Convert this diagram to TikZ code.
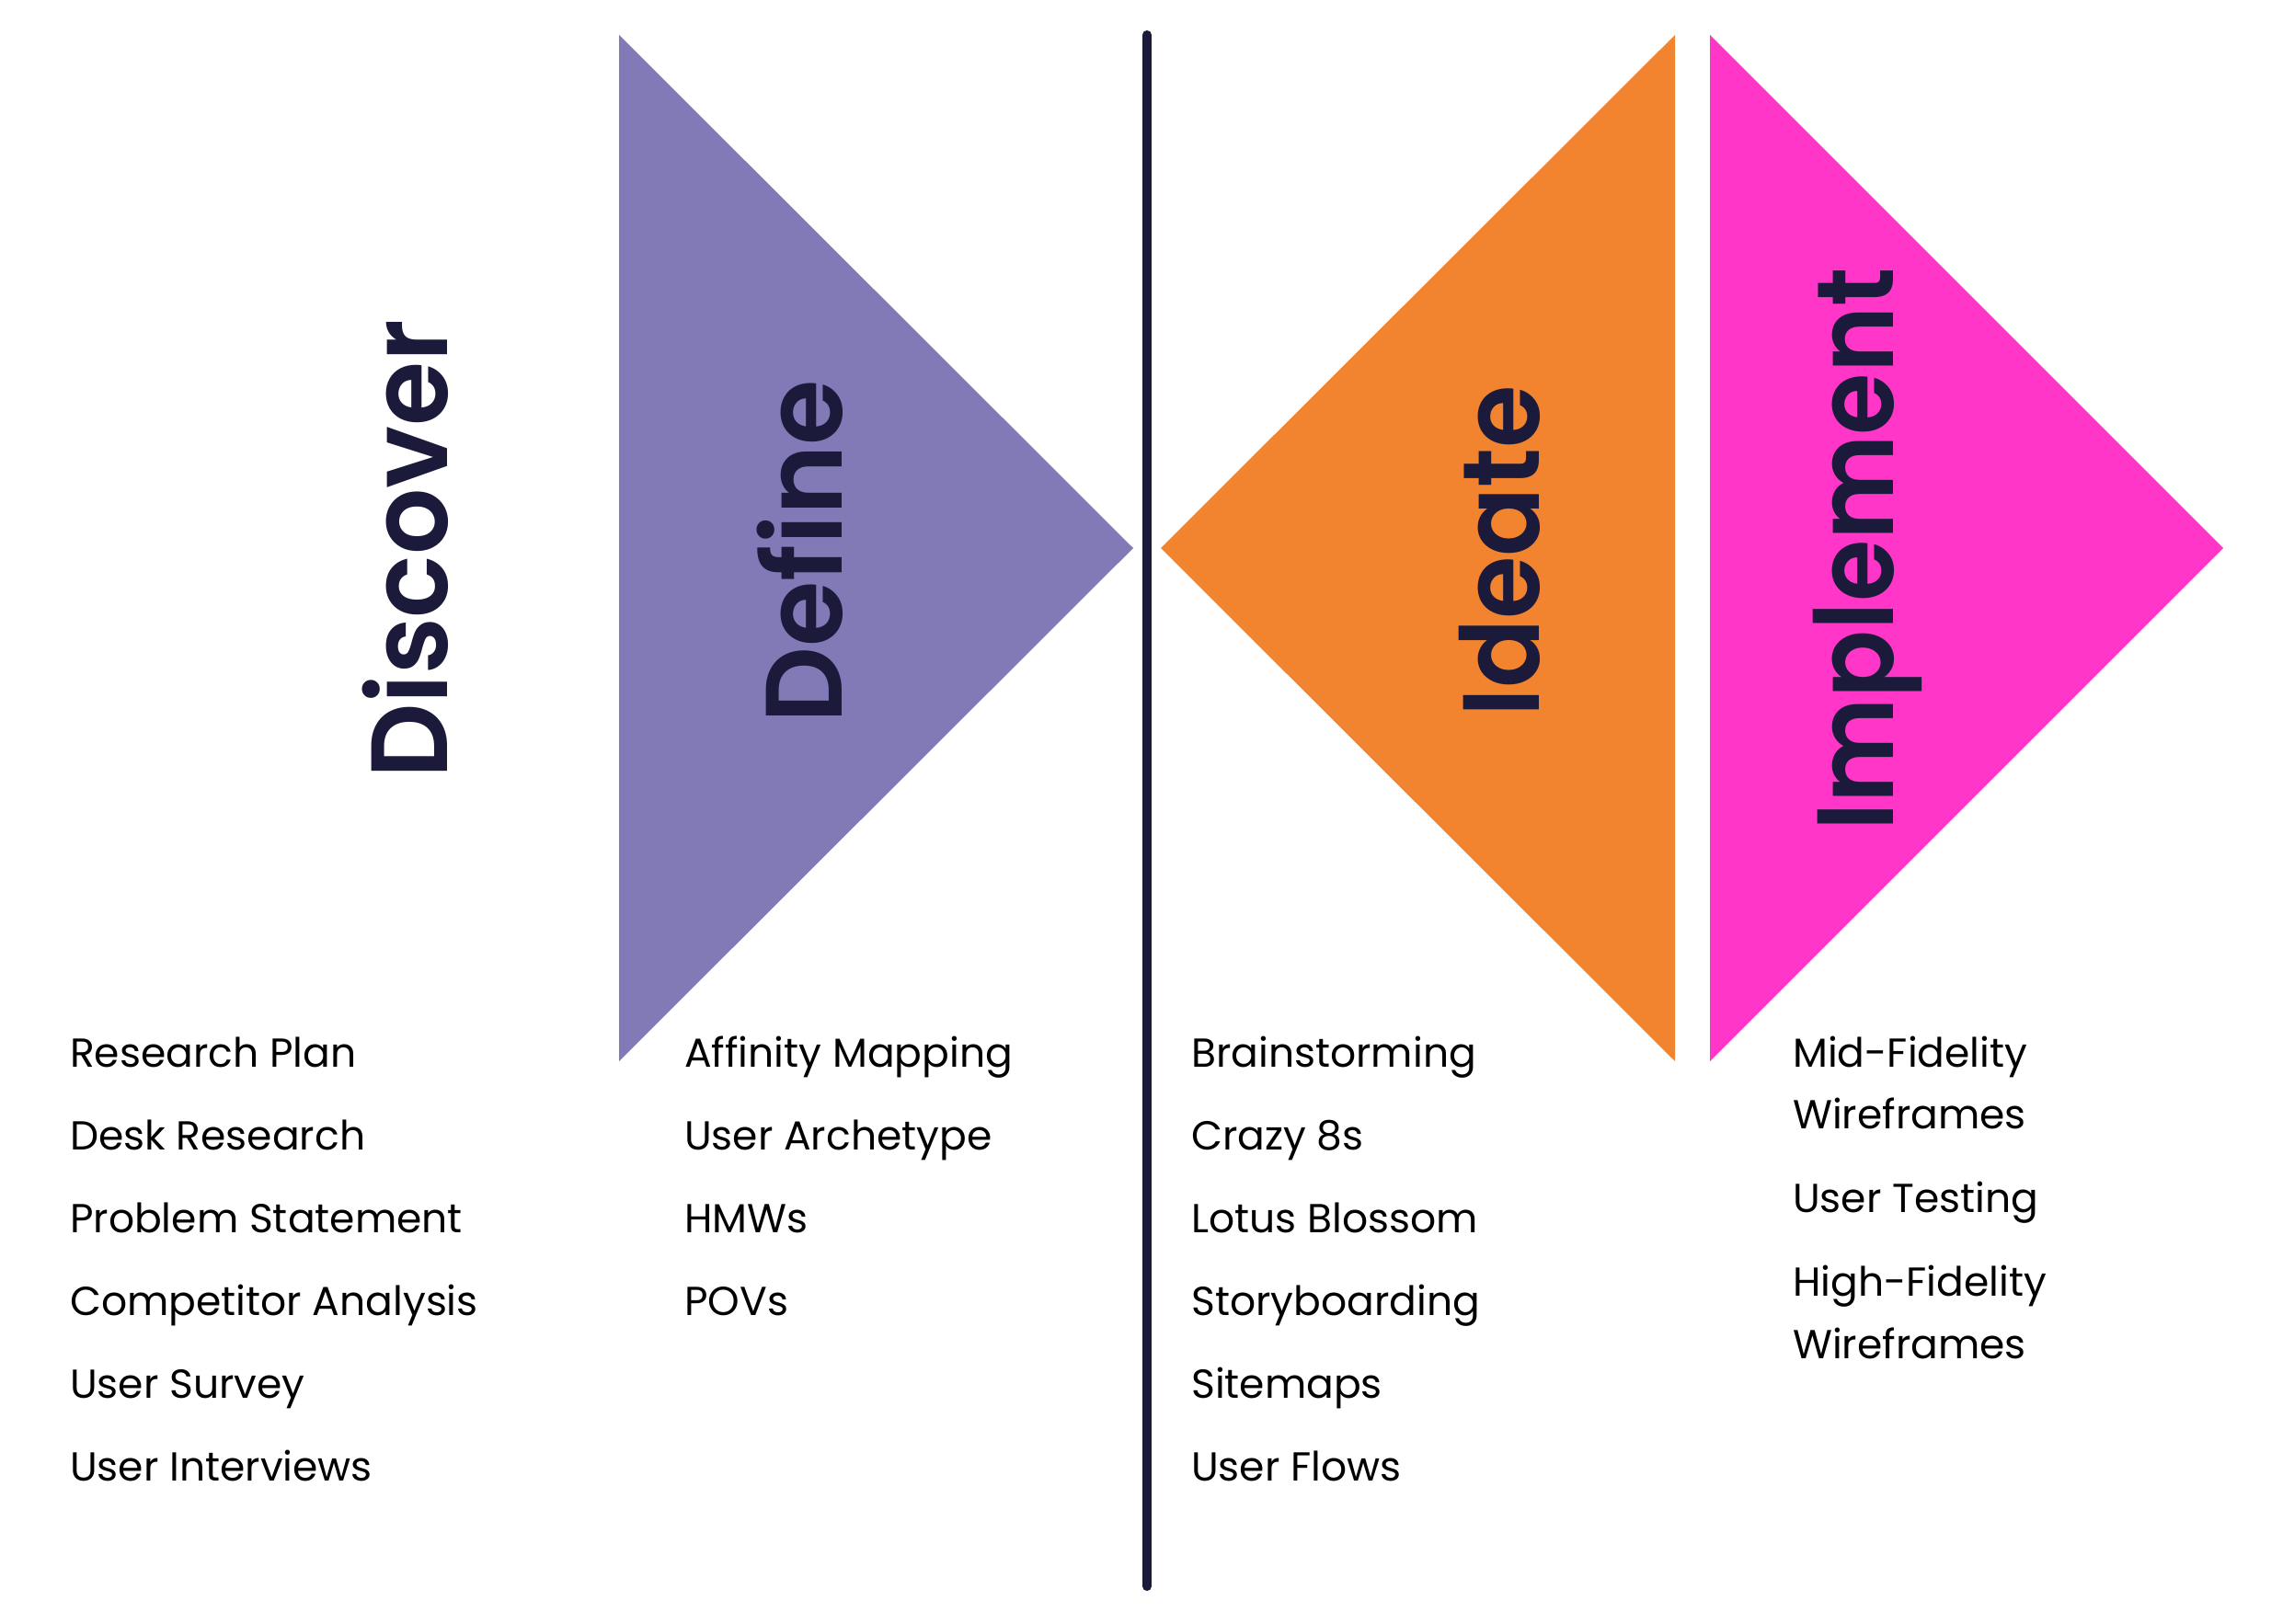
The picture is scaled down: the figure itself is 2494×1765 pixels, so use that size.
\documentclass[tikz,border=0pt]{standalone}
\usepackage{fontspec}
\setmainfont{Poppins}
\newfontfamily\headfont{Poppins SemiBold}
\begin{document}
\begin{tikzpicture}[x=1pt,y=-1pt,
  item/.style={anchor=base west,inner sep=0pt,font=\fontsize{44}{44}\selectfont,text=black},
  head/.style={anchor=base west,inner sep=0pt,rotate=90,xscale=#1,font=\fontsize{118}{118}\headfont,text=navy}]
\definecolor{navy}{RGB}{27,26,58}
\definecolor{lav}{RGB}{130,122,182}
\definecolor{orng}{RGB}{242,132,48}
\definecolor{pink}{RGB}{255,54,200}
\useasboundingbox (0,0) rectangle (2494,1765);
\fill[white] (0,0) rectangle (2494,1765);
% triangles
\fill[lav] (673,38) -- (673,1154) -- (1232,596) -- cycle;
\fill[orng] (1821,38) -- (1821,1154) -- (1262,596) -- cycle;
\fill[pink] (1859,38) -- (1859,1154) -- (2417,596) -- cycle;
% divider
\coordinate (ltop) at (1247,38);
\coordinate (lbot) at (1247,1725);
\draw[navy,line width=10pt,line cap=round] (ltop) -- (lbot);
% headings
\node[head=0.962] (hdisc) at (486,847) {Discover};
\node[head=0.98] (hdef) at (915,787) {Define};
\node[head=0.94] (hide) at (1673,780) {Ideate};
\node[head=0.925] (himp) at (2058,904) {Implement};
% Discover items
\node[item] (d1) at (76,1160) {Research Plan};
\node[item] (d2) at (76,1250) {Desk Research};
\node[item] (d3) at (76,1340) {Problem Statement};
\node[item] (d4) at (76,1430) {Competitor Analysis};
\node[item] (d5) at (76,1520) {User Survey};
\node[item] (d6) at (76,1610) {User Interviews};
% Define items
\node[item] (f1) at (744,1160) {Affinity Mapping};
\node[item] (f2) at (744,1250) {User Archetype};
\node[item] (f3) at (744,1340) {HMWs};
\node[item] (f4) at (744,1430) {POVs};
% Ideate items
\node[item] (i1) at (1295,1160) {Brainstorming};
\node[item] (i2) at (1295,1250) {Crazy 8s};
\node[item] (i3) at (1295,1340) {Lotus Blossom};
\node[item] (i4) at (1295,1430) {Storyboarding};
\node[item] (i5) at (1295,1520) {Sitemaps};
\node[item] (i6) at (1295,1610) {User Flows};
% Implement items
\node[item] (m1) at (1949,1160) {Mid-Fidelity};
\node[item] (m2) at (1949,1227) {Wireframes};
\node[item] (m3) at (1949,1318) {User Testing};
\node[item] (m4) at (1949,1409) {High-Fidelity};
\node[item] (m5) at (1949,1477) {Wireframes};
\end{tikzpicture}
\end{document}
